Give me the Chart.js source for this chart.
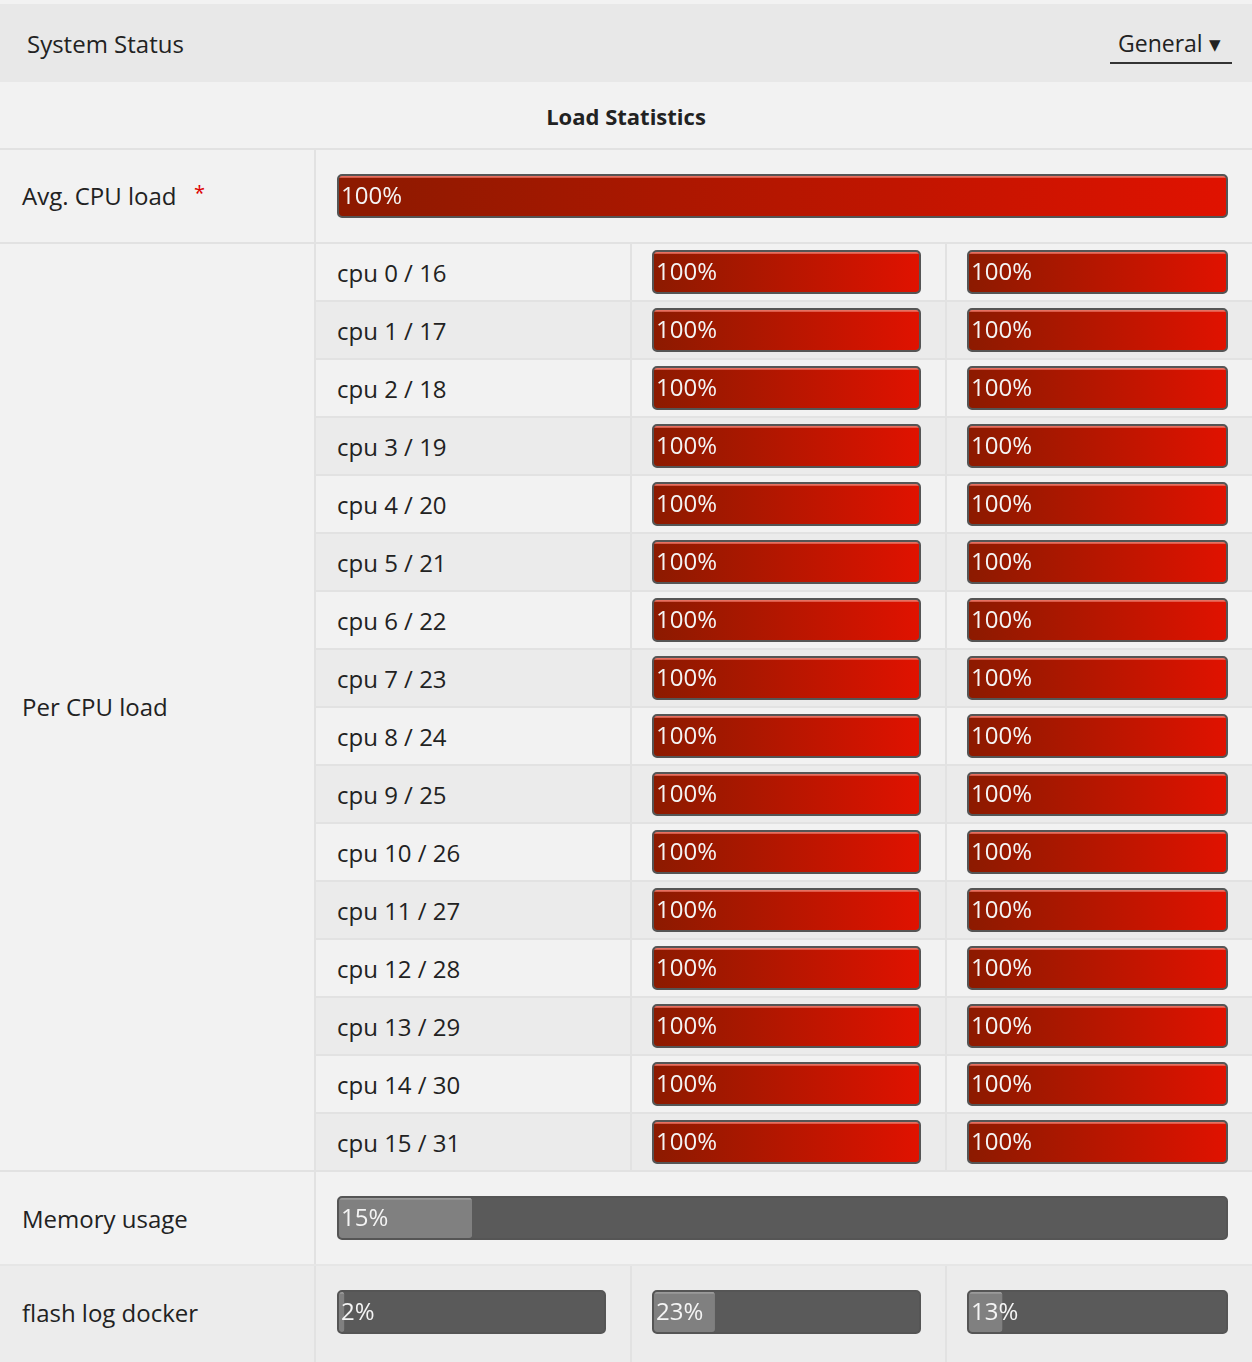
<!DOCTYPE html>
<html><head><meta charset="utf-8">
<script src="https://cdn.jsdelivr.net/npm/chart.js@4"></script>
<style>
body{margin:0;width:1252px;height:1362px;background:#f2f2f2;font-family:"Open Sans",Lato,sans-serif;color:#222;position:relative;overflow:hidden}
.abs{position:absolute}
.t{position:absolute;font-size:24px;line-height:30px;white-space:nowrap}
.bar{position:absolute;box-sizing:border-box;border:2px solid #555;border-radius:5px;background:#5a5a5a;overflow:hidden}
.bar canvas{display:block}
</style></head><body>
<div id="root"></div>
<script>
const cpuNames=["cpu 0 / 16","cpu 1 / 17","cpu 2 / 18","cpu 3 / 19","cpu 4 / 20","cpu 5 / 21","cpu 6 / 22","cpu 7 / 23","cpu 8 / 24","cpu 9 / 25","cpu 10 / 26","cpu 11 / 27","cpu 12 / 28","cpu 13 / 29","cpu 14 / 30","cpu 15 / 31"];
const cpuLoadA=[100,100,100,100,100,100,100,100,100,100,100,100,100,100,100,100];
const cpuLoadB=[100,100,100,100,100,100,100,100,100,100,100,100,100,100,100,100];
const avgCpuLoad=[100];
const memoryUsage=[15];
const storageNames=["flash","log","docker"];
const storageUsage=[2,23,13];

const root=document.body;
function box(x,y,w,h,bg,extra){const d=document.createElement('div');d.className='abs';Object.assign(d.style,{left:x+'px',top:y+'px',width:w+'px',height:h+'px',background:bg},extra||{});root.appendChild(d);return d;}
function text(s,x,y,extra){const d=document.createElement('div');d.className='t';d.textContent=s;d.style.left=x+'px';d.style.top=y+'px';Object.assign(d.style,extra||{});root.appendChild(d);return d;}

// header
box(0,0,1252,4,'#f2f2f2');
box(0,4,1252,78,'#e8e8e8');
text('System Status',27,29);
text('General ▾',1118,28,{fontSize:'23px'});
box(1110,62,122,2,'#333');
box(0,82,1252,66,'#f2f2f2');
text('Load Statistics',0,101,{width:'1252px',textAlign:'center',fontWeight:'bold',fontSize:'22px'});
const lineC='#e2e2e2';
box(0,148,1252,2,lineC);
box(314,150,2,1212,lineC);
box(0,242,1252,2,lineC);
text('Avg. CPU load',22,181);
const star=text('*',194,178,{color:'#d00',fontSize:'20px'});

// per CPU rows
for(let i=0;i<16;i++){
  const y=244+i*58;
  box(316,y,936,56,i%2?'#ebebeb':'#f2f2f2');
  box(316,y+56,936,2,lineC);
  text(cpuNames[i],337,y+14);
}
box(630,244,2,926,lineC);box(945,244,2,926,lineC);
text('Per CPU load',22,692);
box(0,1170,1252,2,lineC);
text('Memory usage',22,1204);
box(0,1264,1252,2,'#e6e6e6');
box(0,1266,1252,96,'#ececec');
box(314,1266,2,96,lineC);box(630,1266,2,96,lineC);box(945,1266,2,96,lineC);
text(storageNames.join(' '),22,1298);

const labelPlugin={id:'lbl',afterDraw(c){const ctx=c.ctx;const v=c.data.datasets[0].data[0];ctx.save();ctx.fillStyle='#f4f4f4';ctx.font='24px "Open Sans", Lato, sans-serif';ctx.textBaseline='middle';ctx.fillText(v+'%',2,c.height/2+1);ctx.restore();}};

function makeBar(x,y,w,h,value,red){
  const d=document.createElement('div');d.className='bar';
  Object.assign(d.style,{left:x+'px',top:y+'px',width:w+'px',height:h+'px'});
  root.appendChild(d);
  const cv=document.createElement('canvas');d.appendChild(cv);
  const iw=w-4,ih=h-4;
  cv.style.width=iw+'px';cv.style.height=ih+'px';
  new Chart(cv,{type:'bar',data:{labels:[''],datasets:[{data:value,
      backgroundColor:(ctx)=>{if(!red)return '#808080';const a=ctx.chart.chartArea;if(!a)return '#c01000';const g=ctx.chart.ctx.createLinearGradient(0,0,a.right,0);g.addColorStop(0,'#8c1a00');g.addColorStop(1,'#e01200');return g;},
      borderColor:red?'#e87060':'#9a9a9a',borderWidth:{top:2,left:0,right:0,bottom:0},borderSkipped:false,
      borderRadius:3,barPercentage:1,categoryPercentage:1}]},
    options:{indexAxis:'y',responsive:false,animation:false,maintainAspectRatio:false,
      layout:{padding:0},
      scales:{x:{min:0,max:100,display:false},y:{display:false}},
      plugins:{legend:{display:false},tooltip:{enabled:false}}},
    plugins:[labelPlugin]});
  cv.width=iw;cv.height=ih;
}
// fix canvas sizing: create with attributes before Chart
function bar(x,y,w,h,value,red){
  const d=document.createElement('div');d.className='bar';
  Object.assign(d.style,{left:x+'px',top:y+'px',width:w+'px',height:h+'px'});
  root.appendChild(d);
  const cv=document.createElement('canvas');
  const iw=w-4,ih=h-4;cv.width=iw;cv.height=ih;cv.style.width=iw+'px';cv.style.height=ih+'px';
  d.appendChild(cv);
  new Chart(cv,{type:'bar',data:{labels:[''],datasets:[{data:value,
      backgroundColor:(ctx)=>{if(!red)return '#808080';const a=ctx.chart.chartArea;if(!a)return '#c01000';const g=ctx.chart.ctx.createLinearGradient(0,0,a.right,0);g.addColorStop(0,'#8c1a00');g.addColorStop(1,'#e01200');return g;},
      borderColor:red?'#e87060':'#9a9a9a',borderWidth:{top:2,left:0,right:0,bottom:0},borderSkipped:false,
      borderRadius:3,barPercentage:1,categoryPercentage:1}]},
    options:{indexAxis:'y',responsive:false,animation:false,
      layout:{padding:0},
      scales:{x:{min:0,max:100,display:false},y:{display:false}},
      plugins:{legend:{display:false},tooltip:{enabled:false}}},
    plugins:[labelPlugin]});
}
bar(337,174,891,44,avgCpuLoad,true);
for(let i=0;i<16;i++){
  const y=250+i*58;
  bar(652,y,269,44,[cpuLoadA[i]],true);
  bar(967,y,261,44,[cpuLoadB[i]],true);
}
bar(337,1196,891,44,memoryUsage,false);
bar(337,1290,269,44,[storageUsage[0]],false);
bar(652,1290,269,44,[storageUsage[1]],false);
bar(967,1290,261,44,[storageUsage[2]],false);
</script>
</body></html>
